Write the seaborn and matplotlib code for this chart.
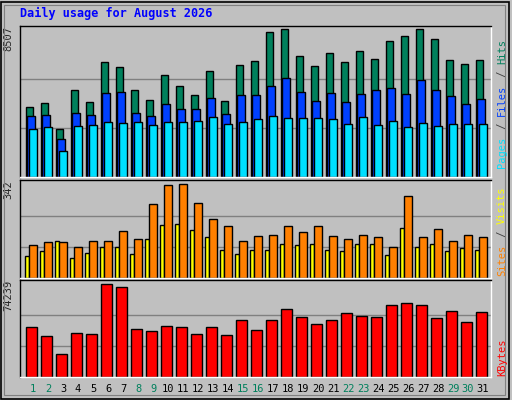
import matplotlib
matplotlib.use("Agg")
import matplotlib.pyplot as plt
import seaborn as sns
import numpy as np
import pandas as pd

days = list(range(1, 32))
hits = [4040,4272,2764,5026,4330,6650,6360,5026,4446,5896,5258,4736,6128,4388,6476,6708,
        8331,8507,6998,6418,7172,6650,7288,6824,7810,8100,8507,7925,6766,6534,6766]
files = [3518,3576,2184,3692,3576,4852,4910,3692,3518,4214,3924,3924,4562,3634,4736,4736,
         5258,5722,4910,4388,4852,4330,4794,5026,5142,4794,5606,5026,4678,4214,4504]
pages = [2764,2880,1488,2938,2996,3170,3112,3170,2996,3170,3170,3228,3460,3054,3170,3344,
         3518,3402,3402,3402,3344,3054,3460,2996,3228,2880,3112,2938,3054,3054,3054]
visits = [119,130,130,112,134,134,171,141,271,338,342,275,216,190,134,152,156,190,167,190,
          152,141,156,149,115,301,149,178,134,156,149]
sites = [82,100,134,74,93,112,115,89,141,193,197,175,149,104,89,104,104,126,119,123,104,
         100,123,123,85,182,112,123,100,108,104]
kbytes = [39970,32630,18760,35080,34260,74239,71780,38340,36710,40790,39970,34260,39970,
          33440,45680,37520,45680,54650,48130,42420,45680,51390,48940,48130,57910,58730,
          57910,47310,53020,44050,52210]
weekend = [1,2,8,9,15,16,22,23,29,30]
title = "Daily usage for August 2026"

sns.set_style("white")
plt.rcParams['font.family'] = ['DejaVu Sans Mono', 'DejaVu Sans']
BG = "#C0C0C0"
fig = plt.figure(figsize=(5.12, 4.0), dpi=100, facecolor=BG)
# outer bevel frame
fig.add_artist(plt.Rectangle((0.002, 0.003), 0.993, 0.993, transform=fig.transFigure,
                             fill=False, ec="black", lw=1.2))
fig.add_artist(plt.Rectangle((0.008, 0.012), 0.978, 0.976, transform=fig.transFigure,
                             fill=False, ec="#808080", lw=0.8))

def mkax(top, bot):
    return fig.add_axes([20/512, 1-bot/400, 471/512, (bot-top)/400], facecolor=BG)

xl = (0.133, 31.53)
def style(ax, ymax, maxlab):
    ax.set_xlim(*xl); ax.set_ylim(0, ymax)
    for g in (maxlab/3, maxlab*2/3):
        ax.axhline(g, color="#808080", lw=1, zorder=0)
    ax.set_xticks([]); ax.set_yticks([])
    ax.set_xlabel(""); ax.set_ylabel("")
    for s in ax.spines.values():
        s.set_color("black"); s.set_linewidth(1)
    ax.spines["bottom"].set_color("white"); ax.spines["right"].set_color("white")
    ax.text(-0.015, 1.0, f"{maxlab:d}" if isinstance(maxlab, int) else str(maxlab),
            transform=ax.transAxes, rotation=90, ha="right", va="top", fontsize=7.5)
    if ax.get_legend(): ax.get_legend().remove()

def bars(ax, vals, off, w, color):
    df = pd.DataFrame({"x": np.array(days) + off, "y": vals})
    sns.barplot(data=df, x="x", y="y", native_scale=True, width=w, color=color,
                edgecolor="black", linewidth=1, saturation=1, ax=ax)

ax1 = mkax(26, 177)
bars(ax1, hits, -0.26, 0.48, "#00805C")
bars(ax1, files, -0.13, 0.48, "#0040FF")
bars(ax1, pages, 0.0, 0.48, "#00E0FF")
style(ax1, 8700, 8507)

ax2 = mkax(180, 278)
bars(ax2, sites, -0.38, 0.26, "#FFFF00")
bars(ax2, visits, 0.0, 0.48, "#FF8000")
style(ax2, 358, 342)

ax3 = mkax(280, 377)
bars(ax3, kbytes, -0.1, 0.68, "#FF0000")
style(ax3, 77490, 74239)

fig.text(20/512, 1-13/400, title, color="#0000FF", fontweight="bold", fontsize=8.5,
         va="center", ha="left")

def rlabel(ax, parts, ystart):
    # parts: list of (text, color) drawn bottom-to-top
    y = ystart
    cw = 7.0 / 400  # approx char advance in figure fraction (vertical)
    for t, c in parts:
        fig.text(502/512, y, t, rotation=90, color=c, fontsize=7.5, ha="center", va="bottom")
        y += len(t) * cw * 0.93

rlabel(ax1, [("Pages", "#00E0FF"), (" / ", "#404040"), ("Files", "#0040FF"),
             (" / ", "#404040"), ("Hits", "#00805C")], 1-168/400)
rlabel(ax2, [("Sites", "#FF8000"), (" / ", "#404040"), ("Visits", "#FFFF00")], 1-276/400)
rlabel(ax3, [("KBytes", "#FF0000")], 1-376/400)

for d in days:
    fx = (20 + (d - xl[0]) / (xl[1]-xl[0]) * 471) / 512
    fig.text(fx, 1-389/400, str(d), ha="center", va="center", fontsize=7.5,
             color="#00805C" if d in weekend else "black")

fig.savefig("out.png", dpi=100, facecolor=BG)
